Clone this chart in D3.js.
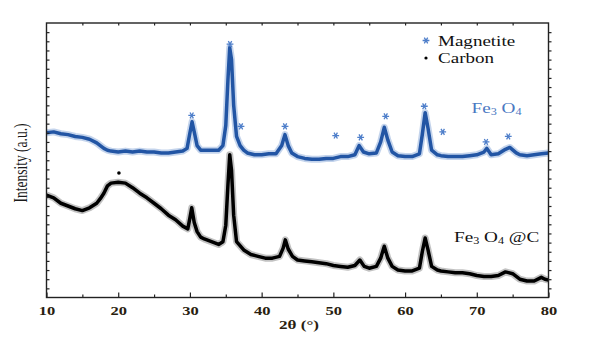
<!DOCTYPE html>
<html><head><meta charset="utf-8">
<script src="https://cdn.jsdelivr.net/npm/d3@7"></script>
<style>body{margin:0;background:#fff}svg{display:block}</style>
</head><body><svg id="c" width="605" height="355"></svg>
<script>
// 2θ positions (deg) and intensities (a.u.)
const fe3o4Theta = [10,11,12,13,14,15,16,17,18,18.5,19,20,21,22,23,24,25,26,27,28,29,29.6,30.0,30.3,30.6,31.0,31.5,32,33,34,34.6,35.0,35.3,35.55,35.8,36.1,36.5,37.0,37.5,38,39,40,41,42,42.8,43.25,43.7,44.2,45,46,47,48,49,50,51,52,53,53.6,54.2,55,56,56.6,57.1,57.6,58.2,59,60,61,62,62.4,62.8,63.2,63.7,64.5,65,66,67,68,69,70,71,71.4,72,73,74,74.6,75.5,76,77,78,79,80];
const fe3o4Int   = [180,181,179,178,176,175,173,169,163,161,160,159,160,159,160,159,159,158,158,159,160,163,180,192,181,166,161,161,161,161,166,188,238,273,260,210,176,166,161,158,156,156,157,157,166,178,166,158,154,152,151,151,152,152,154,154,156,166,159,157,158,170,186,172,159,155,154,154,157,178,202,185,161,156,155,154,154,154,155,156,159,163,156,157,162,164,158,156,155,156,157,158];
const fe3o4cTheta = [10,11,12,13,14,15,16,17,17.5,18,18.5,19,20,21,22,23,24,25,26,27,28,29,29.7,30.0,30.25,30.6,31.0,31.5,32,33,34,34.6,35.0,35.3,35.55,35.8,36.1,36.5,37.5,38.5,39.5,40.5,41.5,42.5,43.0,43.3,43.7,44.3,45,46,47,48,49,50,51,52,53,53.7,54.3,55,56,56.6,57.1,57.6,58.2,59,60,61,62,62.4,62.8,63.2,63.7,64.5,65,66,67,68,69,70,71,72,73,74,75,76,77,78,79,79.5,80];
const fe3o4cInt   = [112,109,103,100,97,95,98,103,108,114,122,125,126,125,120,114,109,103,97,90,85,78,75,87,98,82,72,66,64,61,58,61,79,123,156,139,90,61,52,47,45,43,43,45,54,63,53,45,41,40,39,38,37,35,34,33,35,41,34,32,34,43,56,43,34,30,29,29,32,50,65,52,34,30,29,28,27,27,26,24,23,23,24,28,26,20,18,18,22,20,19];
const magnetiteTheta = [30.25,35.59,37.12,43.26,50.33,53.81,57.30,62.68,65.25,71.29,74.39];
const magnetiteInt   = [199,277,187,187,177,175,198,209,181,170,176];
const carbonTheta = [20.1];
const carbonInt   = [136];
const xTicks = [10,20,30,40,50,60,70,80];
const legendLabels = ["Magnetite","Carbon"];

const svg = d3.select("#c");
const L=46.5,R=548.5,T=23,B=297.5, SX=1.32;
const x = d3.scaleLinear().domain([10,80]).range([L,R]);
const y = d3.scaleLinear().domain([0,300]).range([B,T]);

svg.append("clipPath").attr("id","clip").append("rect").attr("x",L).attr("y",T).attr("width",R-L).attr("height",B-T);

// curves
const line = d3.line().x(d=>x(d[0])).y(d=>y(d[1])).curve(d3.curveLinear);
const blue = fe3o4Theta.map((t,i)=>[t,fe3o4Int[i]]);
const black = fe3o4cTheta.map((t,i)=>[t,fe3o4cInt[i]]);
const g = svg.append("g").attr("clip-path","url(#clip)");
g.append("path").attr("d",line(blue)).attr("fill","none").attr("stroke","#8aa9da").attr("stroke-width",7).attr("stroke-opacity",0.5).attr("stroke-linejoin","round");
g.append("path").attr("d",line(blue)).attr("fill","none").attr("stroke","#2255a4").attr("stroke-width",3.5).attr("stroke-linejoin","round");
g.append("path").attr("d",line(black)).attr("fill","none").attr("stroke","#777").attr("stroke-width",7).attr("stroke-opacity",0.45).attr("stroke-linejoin","round");
g.append("path").attr("d",line(black)).attr("fill","none").attr("stroke","#000").attr("stroke-width",3.5).attr("stroke-linejoin","round");

// markers
const star = d3.symbol().type(d3.symbolAsterisk).size(32);
svg.append("g").selectAll("path").data(magnetiteTheta).join("path")
  .attr("d",star).attr("transform",(d,i)=>`translate(${x(d)},${y(magnetiteInt[i])}) rotate(90)`)
  .attr("fill","none").attr("stroke","#4f7fca").attr("stroke-width",1.3);
svg.append("g").selectAll("circle").data(carbonTheta).join("circle")
  .attr("cx",d=>x(d)).attr("cy",(d,i)=>y(carbonInt[i])).attr("r",1.8).attr("fill","#000");

// axes
const font = "'Liberation Serif','Times New Roman',serif";
const xb = svg.append("g").attr("transform",`translate(0,${B})`)
  .call(d3.axisBottom(x).tickValues(xTicks).tickSizeInner(-5).tickSizeOuter(0).tickPadding(9).tickFormat(d3.format("d")));
xb.selectAll("text").attr("font-family",font).attr("font-size",12.5).attr("font-weight","bold").attr("fill","#2a1e10").attr("transform",`scale(${SX},1)`);
svg.append("g").attr("transform",`translate(0,${B})`)
  .call(d3.axisBottom(x).tickValues(d3.range(15,80,10)).tickSizeInner(-3).tickSizeOuter(0).tickFormat(""));
svg.append("g").attr("transform",`translate(0,${T})`)
  .call(d3.axisTop(x).tickValues(d3.range(15,80,5)).tickSizeInner(-2.5).tickSizeOuter(0).tickFormat(""));
const yt = d3.range(10,300,10);
svg.append("g").attr("transform",`translate(${L},0)`).call(d3.axisLeft(y).tickValues(yt).tickSizeInner(-3).tickSizeOuter(0).tickFormat(""));
svg.append("g").attr("transform",`translate(${R},0)`).call(d3.axisRight(y).tickValues(yt).tickSizeInner(3).tickSizeOuter(0).tickFormat(""));
svg.selectAll(".domain").remove();
svg.selectAll(".tick line").attr("stroke","#222").attr("stroke-width",1.2);
svg.append("rect").attr("x",L).attr("y",T).attr("width",R-L).attr("height",B-T).attr("fill","none").attr("stroke","#222").attr("stroke-width",1.4);

// titles
svg.append("text").attr("transform",`translate(299,329) scale(${SX},1)`).attr("text-anchor","middle")
  .attr("font-family",font).attr("font-size",13).attr("font-weight","bold").attr("fill","#2a1e10").text("2θ (°)");
svg.append("text").attr("transform",`translate(27,163) scale(${SX},1) rotate(-90)`).attr("text-anchor","middle")
  .attr("font-family",font).attr("font-size",13.5).attr("fill","#1a1a1a").text("Intensity (a.u.)");

// legend
const lg = svg.append("g");
lg.append("path").attr("d",star).attr("transform","translate(426,40.5) rotate(90)").attr("fill","none").attr("stroke","#4f7fca").attr("stroke-width",1.3);
lg.append("circle").attr("cx",426).attr("cy",58).attr("r",1.6).attr("fill","#000");
legendLabels.forEach((t,i)=>{
  lg.append("text").attr("transform",`translate(438,${46+i*16.5}) scale(1.27,1)`)
    .attr("font-family",font).attr("font-size",15).attr("fill","#111").text(t);
});

// series labels
function chem(xp,yp,color,suffix){
  const t = svg.append("text").attr("transform",`translate(${xp},${yp}) scale(1.28,1)`)
    .attr("font-family",font).attr("font-size",15).attr("fill",color);
  t.append("tspan").text("Fe");
  t.append("tspan").attr("font-size",9.5).attr("dy",2).text("3");
  t.append("tspan").attr("dy",-2).text(" O");
  t.append("tspan").attr("font-size",9.5).attr("dy",2).text("4");
  if(suffix) t.append("tspan").attr("dy",-2).text(" "+suffix);
}
chem(471.5,113,"#4a78c2","");
chem(454,241.5,"#111","@C");
</script></body></html>
